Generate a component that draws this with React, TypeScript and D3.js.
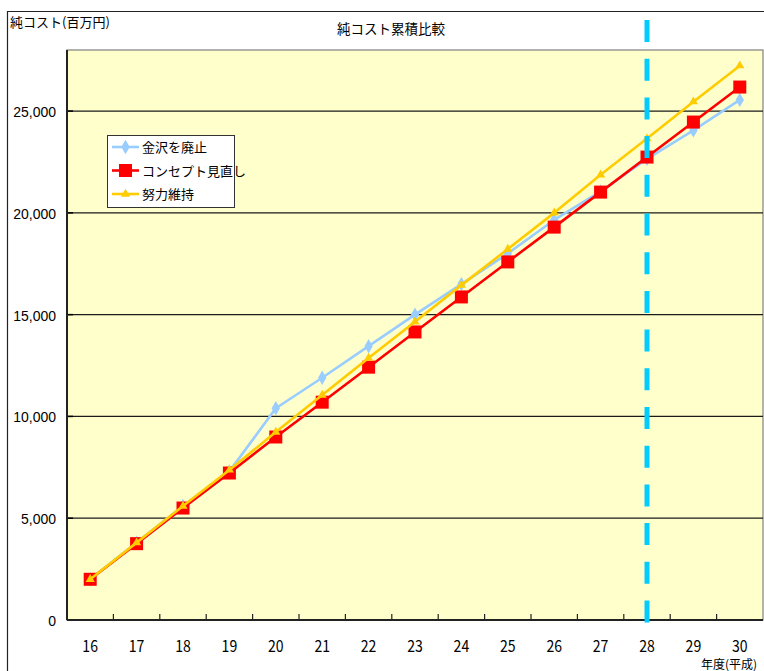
import React from "react";
import * as d3 from "d3";

// 年度（平成）
const years = ["16", "17", "18", "19", "20", "21", "22", "23", "24", "25", "26", "27", "28", "29", "30"];

// 純コスト累積（百万円）
const haishi = [2000, 3800, 5600, 7300, 10400, 11900, 13450, 15000, 16500, 18000, 19650, 21050, 22650, 24050, 25550];
const minaoshi = [2000, 3750, 5500, 7220, 8990, 10700, 12420, 14150, 15870, 17590, 19300, 21020, 22740, 24460, 26180];
const iji = [2000, 3800, 5600, 7370, 9230, 11050, 12870, 14650, 16450, 18220, 20000, 21870, 23650, 25460, 27230];

const seriesNames = ["金沢を廃止", "コンセプト見直し", "努力維持"];
const yTicks = [0, 5000, 10000, 15000, 20000, 25000];
const markerYear = "28";

const W = 764;
const H = 671;
const plot = { left: 67, top: 50, right: 763, bottom: 620 };

const jp = "'Noto Sans CJK JP', 'Noto Sans', sans-serif";
const latin = "'Liberation Sans', Arial, sans-serif";

export default function App() {
  const x = d3.scaleBand<string>().domain(years).range([plot.left, plot.right]);
  const y = d3.scaleLinear().domain([0, 28000]).range([plot.bottom, plot.top]);
  const cx = (yr: string) => (x(yr) as number) + x.bandwidth() / 2;

  const line = d3
    .line<number>()
    .x((_, i) => cx(years[i]))
    .y((v) => y(v));

  const series = [
    { name: seriesNames[0], data: haishi, color: "#99CCFF", marker: "diamond" },
    { name: seriesNames[1], data: minaoshi, color: "#FF0000", marker: "square" },
    { name: seriesNames[2], data: iji, color: "#FFCC00", marker: "triangle" },
  ];

  const diamond = d3.symbol(d3.symbolDiamond, 60)() as string;
  const triangle = d3.symbol(d3.symbolTriangle, 36)() as string;

  const drawMarker = (kind: string, color: string, px: number, py: number, key: string | number) => {
    if (kind === "square") {
      return <rect key={key} x={px - 6.5} y={py - 6.5} width={13} height={13} fill={color} />;
    }
    if (kind === "diamond") {
      return <path key={key} d={diamond} transform={`translate(${px},${py})`} fill={color} />;
    }
    return <path key={key} d={triangle} transform={`translate(${px},${py})`} fill={color} />;
  };

  const boundaries = years.map((yr) => x(yr) as number).slice(1);
  const xm = cx(markerYear);

  return (
    <svg
      width={W}
      height={H}
      style={{ position: "absolute", left: 0, top: 0, background: "#fff" }}
      viewBox={`0 0 ${W} ${H}`}
    >
      {/* outer frame */}
      <line x1={7} y1={11.5} x2={W} y2={11.5} stroke="#222" strokeWidth={1.2} />
      <line x1={7.5} y1={11} x2={7.5} y2={H} stroke="#222" strokeWidth={1.2} />

      {/* titles */}
      <text x={10} y={27} fontFamily={jp} fontSize={13} fill="#000">
        純コスト(百万円)
      </text>
      <text x={391} y={34} fontFamily={jp} fontSize={13.5} fill="#000" textAnchor="middle">
        純コスト累積比較
      </text>

      {/* plot area */}
      <rect
        x={plot.left}
        y={plot.top}
        width={plot.right - plot.left}
        height={plot.bottom - plot.top}
        fill="#FFFFCC"
        stroke="#808080"
        strokeWidth={1.2}
      />

      {/* gridlines + y axis */}
      {yTicks.map((t) => (
        <g key={t}>
          {t > 0 && (
            <line x1={plot.left} x2={plot.right} y1={y(t)} y2={y(t)} stroke="#1a1a1a" strokeWidth={1.2} />
          )}
          <line x1={plot.left} x2={plot.left + 6} y1={y(t)} y2={y(t)} stroke="#000" strokeWidth={1.5} />
          <text
            x={56}
            y={y(t) + 6}
            textAnchor="end"
            fontFamily={latin}
            fontSize={14}
            fill="#000"
          >
            {d3.format(",")(t)}
          </text>
        </g>
      ))}
      <line x1={plot.left} x2={plot.left} y1={plot.top} y2={plot.bottom} stroke="#222" strokeWidth={2} />
      <line x1={plot.left} x2={plot.right} y1={plot.bottom} y2={plot.bottom} stroke="#222" strokeWidth={2} />

      {/* x axis */}
      {boundaries.map((b, i) => (
        <line key={i} x1={b} x2={b} y1={plot.bottom} y2={plot.bottom - 6} stroke="#222" strokeWidth={1.2} />
      ))}
      {years.map((yr) => (
        <text
          key={yr}
          x={cx(yr)}
          y={652}
          textAnchor="middle"
          fontFamily={jp}
          fontSize={16}
          fill="#000"
          transform={`translate(${cx(yr)},0) scale(0.88,1) translate(${-cx(yr)},0)`}
        >
          {yr}
        </text>
      ))}
      <text x={757} y={669} textAnchor="end" fontFamily={jp} fontSize={12} fill="#000">
        年度(平成)
      </text>

      {/* series */}
      {series.map((s) => (
        <g key={s.name}>
          <path d={line(s.data) as string} fill="none" stroke={s.color} strokeWidth={2.6} strokeLinejoin="round" />
          {s.data.map((v, i) => drawMarker(s.marker, s.color, cx(years[i]), y(v), i))}
        </g>
      ))}

      {/* reference year */}
      <line
        x1={xm}
        x2={xm}
        y1={20}
        y2={623}
        stroke="#00CCFF"
        strokeWidth={5}
        strokeDasharray="22 16.7"
      />

      {/* legend */}
      <rect x={107.5} y={135.5} width={127} height={72} fill="#FFFFFF" stroke="#333" strokeWidth={1} />
      {series.map((s, i) => {
        const ly = 147 + i * 23.5;
        return (
          <g key={s.name}>
            <line x1={112} x2={139} y1={ly} y2={ly} stroke={s.color} strokeWidth={2.6} />
            {drawMarker(s.marker, s.color, 125.5, ly, "m")}
            <text x={142} y={ly + 5} fontFamily={jp} fontSize={13} fill="#000">
              {s.name}
            </text>
          </g>
        );
      })}
    </svg>
  );
}
